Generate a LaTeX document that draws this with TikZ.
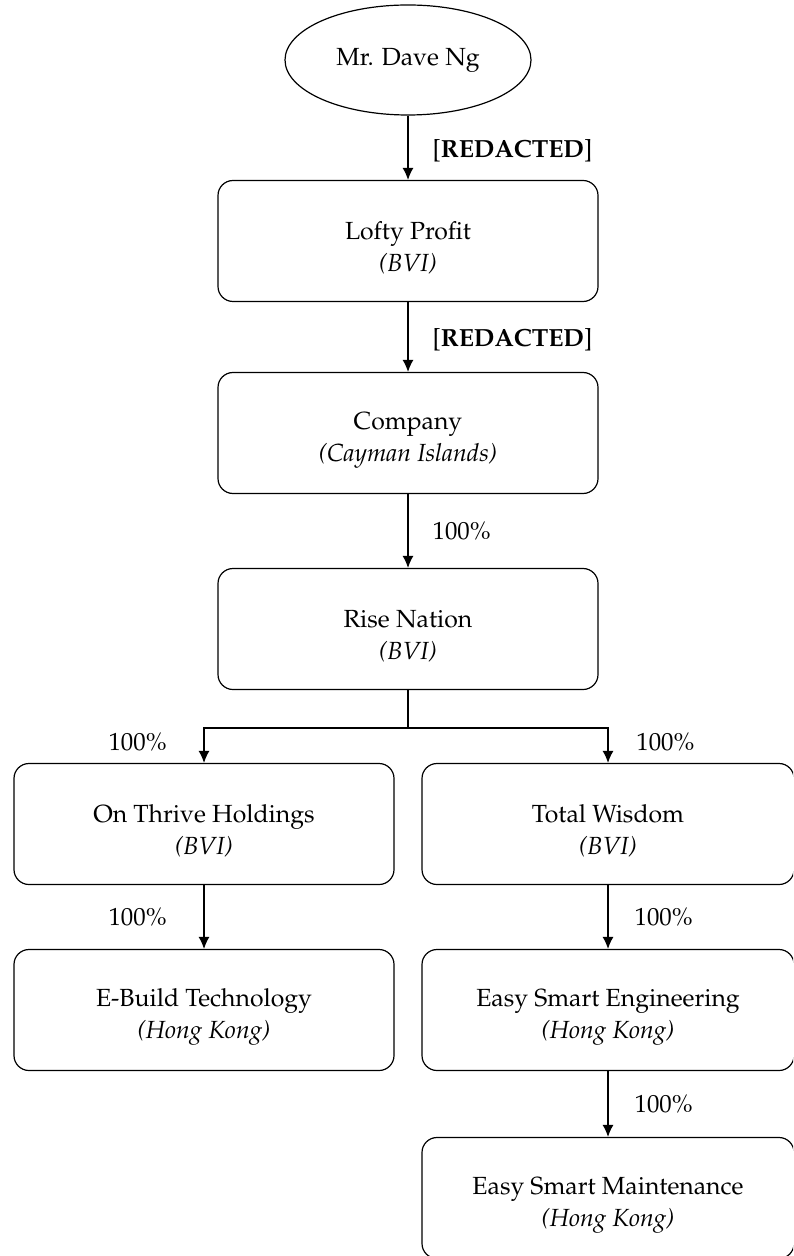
\documentclass[tikz,border=0pt]{standalone}
\usepackage[T1]{fontenc}
\usepackage{mathpazo}
\usepackage{tikz}
\usetikzlibrary{arrows.meta, shapes.geometric, positioning}

\newcommand{\entitytext}[2]{\rule{0pt}{16pt}#1\\\textit{#2}}

\tikzset{
    entity/.style={draw, rounded corners=7.5pt, line width=0.6pt, minimum width=190pt,
        minimum height=60.5pt, align=center, font=\fontsize{12.4}{16}\selectfont},
    person/.style={draw, ellipse, line width=0.6pt, minimum width=123pt,
        minimum height=55pt, font=\fontsize{12.4}{15}\selectfont},
    pct/.style={inner sep=0pt, font=\fontsize{12.4}{15}\selectfont},
    link/.style={line width=0.6pt}
}

\begin{document}
\begin{tikzpicture}[>={Latex[length=6pt,width=5.5pt]}, x=0.5pt, y=-0.5pt]
    \useasboundingbox (0,0) rectangle (793,1256);
    \clip (0,0) rectangle (793,1256);

    % Cổ đông và các công ty
    \node[person] (dave) at (408,60) {Mr. Dave Ng};
    \node[entity] (lofty) at (408,241) {\entitytext{Lofty Profit}{(BVI)}};
    \node[entity] (company) at (408,433) {\entitytext{Company}{(Cayman Islands)}};
    \node[entity] (rise) at (408,629) {\entitytext{Rise Nation}{(BVI)}};
    \node[entity] (onthrive) at (204,824) {\entitytext{On Thrive Holdings}{(BVI)}};
    \node[entity, minimum width=186pt] (wisdom) at (608,824) {\entitytext{Total Wisdom}{(BVI)}};
    \node[entity] (ebuild) at (204,1010) {\entitytext{E-Build Technology}{(Hong Kong)}};
    \node[entity, minimum width=186pt] (engineering) at (608,1010) {\entitytext{Easy Smart Engineering}{(Hong Kong)}};
    \node[entity, minimum width=186pt] (maintenance) at (608,1198) {\entitytext{Easy Smart Maintenance}{(Hong Kong)}};

    % Mũi tên sở hữu
    \draw[link, ->] (dave.south) -- node[pct, right=12pt, yshift=-1.5pt] {[\textbf{REDACTED}]} (lofty.north);
    \draw[link, ->] (lofty.south) -- node[pct, right=12pt, yshift=-1.5pt] {[\textbf{REDACTED}]} (company.north);
    \draw[link, ->] (company.south) -- node[pct, right=12pt] {100\%} (rise.north);

    % Nhánh tách đôi
    \coordinate (split) at (408,728);
    \draw[link] (rise.south) -- (split);
    \draw[link, ->] (split) -| (onthrive.north);
    \draw[link, ->] (split) -| (wisdom.north);
    \node[pct, anchor=east] (pctA) at (167,742) {100\%};
    \node[pct, anchor=west] (pctB) at (636,742) {100\%};

    \draw[link, ->] (onthrive.south) -- (ebuild.north);
    \node[pct, anchor=east] (pctC) at (167,917) {100\%};
    \draw[link, ->] (wisdom.south) -- node[pct, right=13pt] {100\%} (engineering.north);
    \draw[link, ->] (engineering.south) -- node[pct, right=13pt] {100\%} (maintenance.north);
\end{tikzpicture}
\end{document}
